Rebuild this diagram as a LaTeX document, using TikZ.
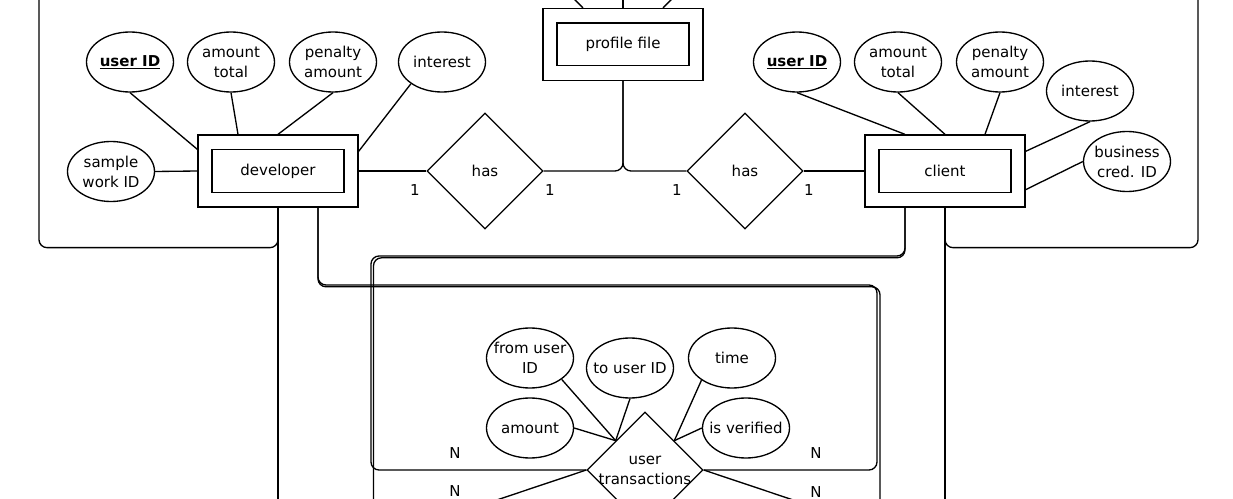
\documentclass[tikz,border=0pt]{standalone}
\usepackage{fontspec}
\setmainfont{DejaVu Sans}
\usetikzlibrary{shapes.geometric}
\newcommand{\zw}[1]{\makebox[0pt]{#1}}
\tikzset{
  base/.style={line width=1pt, font=\fontsize{11.25}{15}\selectfont},
  entity/.style={draw, line width=1pt, minimum width=120pt, minimum height=54pt, inner sep=0pt,
    path picture={\draw[line width=1pt] ([shift={(10.5pt,11pt)}]path picture bounding box.south west)
      rectangle ([shift={(-10.5pt,-11pt)}]path picture bounding box.north east);}},
  attr/.style={draw, ellipse, line width=1pt, minimum width=65.25pt, minimum height=45pt, inner sep=0pt, align=center},
  rel/.style={draw, diamond, line width=1pt, minimum width=87pt, minimum height=87pt, inner sep=0pt, aspect=1, align=center},
  conn/.style={line width=1pt, rounded corners=6pt},
  card/.style={inner sep=0pt}
}
\begin{document}
\begin{tikzpicture}[x=0.75pt,y=-0.75pt,base]
\useasboundingbox (0,0) rectangle (1233,499);
\clip (0,0) rectangle (1233,499);
% off-canvas ends
\coordinate (topL) at (39,-20);
\coordinate (topR) at (1198,-20);
\coordinate (dbot) at (278,530);
\coordinate (cbot) at (945,530);
\coordinate (abot) at (373.5,530);
\coordinate (bbot) at (880,530);
\coordinate (utl) at (437,520);
\coordinate (utr) at (853,520);
\coordinate (pfa) at (563,-12);
\coordinate (pfb) at (623,-12);
\coordinate (pfc) at (683,-12);
% entities
\node[entity] (dev) at (278,171) {developer};
\node[entity] (cl) at (945,171) {client};
\node[entity] (pf) at (623,44.5) {profile file};
% relations
\node[rel] (has1) at (485,171) {has};
\node[rel] (has2) at (745,171) {has};
\node[rel] (ut) at (645,470) {\zw{user}\\\zw{transactions}};
% developer attributes
\node[attr] (duid) at (130,62) {\zw{\textbf{\underline{user ID}}}};
\node[attr] (damt) at (231,62) {\zw{amount}\\\zw{total}};
\node[attr] (dpen) at (333,62) {\zw{penalty}\\\zw{amount}};
\node[attr] (dint) at (442,62) {\zw{interest}};
\node[attr] (dsw) at (111,171.5) {\zw{sample}\\\zw{work ID}};
% client attributes
\node[attr] (cuid) at (797,62) {\zw{\textbf{\underline{user ID}}}};
\node[attr] (camt) at (898,62) {\zw{amount}\\\zw{total}};
\node[attr] (cpen) at (1000,62) {\zw{penalty}\\\zw{amount}};
\node[attr] (cint) at (1090,91) {\zw{interest}};
\node[attr] (cbus) at (1127,161.5) {\zw{business}\\\zw{cred. ID}};
% transaction attributes
\node[attr] (tfu) at (530,358) {\zw{from user}\\\zw{ID}};
\node[attr] (ttu) at (630,368) {\zw{to user ID}};
\node[attr] (ttime) at (732,358) {\zw{time}};
\node[attr] (tamt) at (530,428) {\zw{amount}};
\node[attr] (tver) at (746,428) {\zw{is verified}};
% attribute links
\draw (duid.south) -- ([shift={(0,15)}]dev.north west);
\draw (damt.south) -- ([shift={(-40,0)}]dev.north);
\draw (dpen.south) -- (dev.north);
\draw (dint.215) -- ([shift={(0,17)}]dev.north east);
\draw (dsw.east) -- (dev.west);
\draw (cuid.south) -- ([shift={(-40,0)}]cl.north);
\draw (camt.south) -- (cl.north);
\draw (cpen.south) -- ([shift={(40,0)}]cl.north);
\draw (cint.south) -- ([shift={(0,17)}]cl.north east);
\draw (cbus.west) -- ([shift={(0,-18)}]cl.south east);
\draw (tfu.-34) -- (ut.north west);
\draw (ttu.south) -- (ut.north west);
\draw (tamt.east) -- (ut.north west);
\draw (ttime.216) -- (ut.north east);
\draw (tver.west) -- (ut.north east);
% relationship links
\draw (dev.east) -- (has1.west);
\draw (has2.east) -- (cl.west);
\draw[conn] (pf.south) |- (has1.east);
\draw[conn] (pf.south) |- (has2.west);
\draw ([shift={(-40,0)}]pf.north) -- (pfa);
\draw (pf.north) -- (pfb);
\draw ([shift={(40,0)}]pf.north) -- (pfc);
% outer routes
\draw[conn] (dev.south) -- ++(0,40) -| (topL);
\draw (dev.south) -- (dbot);
\draw[conn] (cl.south) -- ++(0,40) -| (topR);
\draw (cl.south) -- (cbot);
% middle routes
\draw[conn] ([shift={(-40,0)}]cl.south) |- (371,256) |- (ut.west);
\draw[conn] ([shift={(-40,0)}]cl.south) |- (373.5,257.8) -- (abot);
\draw[conn] ([shift={(40,0)}]dev.south) |- (877,285) |- (ut.east);
\draw[conn] ([shift={(40,0)}]dev.south) |- (880,286.8) -- (bbot);
\draw (ut.west) -- (utl);
\draw (ut.east) -- (utr);
% cardinalities
\node[card] (c1) at (415,190) {1};
\node[card] (c2) at (550,190) {1};
\node[card] (c3) at (677,190) {1};
\node[card] (c4) at (809,190) {1};
\node[card] (n1) at (455,453) {N};
\node[card] (n2) at (816,453) {N};
\node[card] (n3) at (455,491) {N};
\node[card] (n4) at (816,492) {N};
\end{tikzpicture}
\end{document}
